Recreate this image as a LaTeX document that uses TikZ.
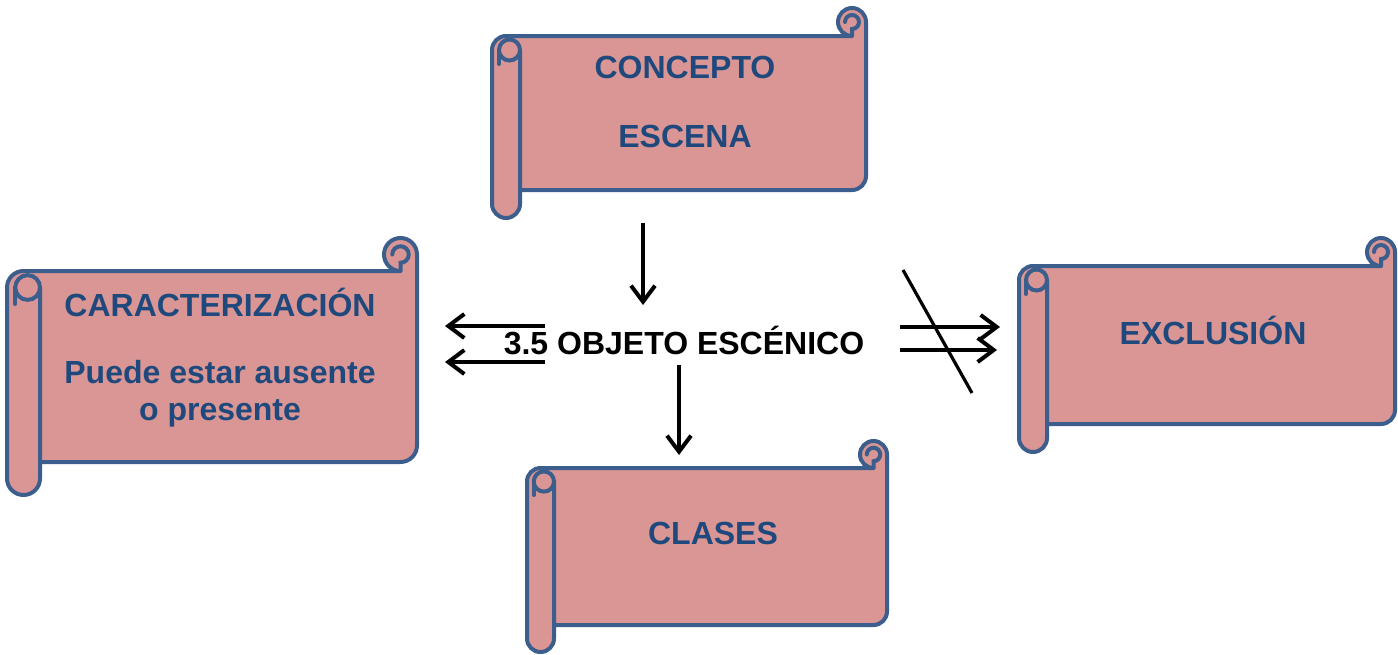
\documentclass[tikz,border=0pt]{standalone}
\usepackage{fontspec}
\setmainfont{Liberation Sans}
\usetikzlibrary{arrows.meta}

\definecolor{rosa}{HTML}{D99694}
\definecolor{borde}{HTML}{3B5E8C}
\definecolor{letra}{HTML}{1F497D}

% pergamino: izquierda, arriba, derecha, abajo, diametro del rollo
\newcommand{\pergamino}[5]{%
  \pgfmathsetmacro{\rh}{#5/2}
  \filldraw[hoja] (#1+\rh,#2+#5) -- (#3-\rh,#2+#5)
    arc[start angle=90,end angle=360,radius=\rh]
    -- (#3,#4-#5-\rh) arc[start angle=0,end angle=90,radius=\rh]
    -- (#1+#5,#4-#5) -- (#1+#5,#4-\rh) arc[start angle=0,end angle=180,radius=\rh]
    -- (#1,#2+#5+\rh) arc[start angle=180,end angle=270,radius=\rh] -- cycle;
  \draw[rollo] (#3-\rh,#2+#5) -- (#3-\rh,#2+#5*0.75)
    arc[start angle=90,delta angle=-270,radius=\rh/2];
  \draw[rollo] (#1+#5,#4-#5) -- (#1+#5,#2+#5+\rh)
    arc[start angle=0,delta angle=-360,radius=0.75*\rh];
  \draw[rollo] (#1+#5-1.5*\rh,#2+#5+\rh) -- ++(0,\rh);
}

\begin{document}
\begin{tikzpicture}[x=0.5pt,y=-0.5pt,
    hoja/.style={fill=rosa,draw=borde,line width=2pt,line join=round},
    rollo/.style={draw=borde,line width=2pt,line cap=round},
    titulo/.style={text=letra,font=\fontsize{16}{19}\selectfont\bfseries,inner sep=0pt},
    flecha/.style={line width=2pt,-{Straight Barb[length=8pt,width=12pt]}}]
  \useasboundingbox (0,0) rectangle (1398,654);

  % pergaminos
  \pergamino{492}{8}{866}{218}{28}
  \pergamino{7}{238}{417}{495}{33}
  \pergamino{1019}{238}{1395}{452}{28}
  \pergamino{527}{441}{887}{652}{27}

  % textos
  \node[titulo] (concepto) at (685,67) {CONCEPTO};
  \node[titulo] (escena) at (685,136) {ESCENA};
  \node[titulo] (caract) at (220,302) {CARACTERIZACIÓN};
  \node[titulo] (ausente) at (220,372) {Puede estar ausente};
  \node[titulo] (presente) at (220,413) {o presente};
  \node[titulo] (exclusion) at (1213,330) {EXCLUSIÓN};
  \node[titulo] (clases) at (713,533) {CLASES};
  \node[titulo,text=black] (objeto) at (684,340) {3.5 OBJETO ESCÉNICO};

  % flechas
  \coordinate (a1) at (643,223);
  \coordinate (a2) at (643,305);
  \coordinate (b1) at (679,365);
  \coordinate (b2) at (679,455);
  \coordinate (i1) at (545,326);
  \coordinate (i2) at (445,326);
  \coordinate (i3) at (545,362);
  \coordinate (i4) at (445,362);
  \coordinate (d1) at (900,327);
  \coordinate (d2) at (1000,327);
  \coordinate (d3) at (900,350);
  \coordinate (d4) at (997,350);
  \coordinate (s1) at (903,270);
  \coordinate (s2) at (972,393);

  \draw[flecha] (a1) -- (a2);
  \draw[flecha] (b1) -- (b2);
  \draw[flecha] (i1) -- (i2);
  \draw[flecha] (i3) -- (i4);
  \draw[flecha] (d1) -- (d2);
  \draw[flecha] (d3) -- (d4);
  \draw[line width=1.6pt] (s1) -- (s2);
\end{tikzpicture}
\end{document}
